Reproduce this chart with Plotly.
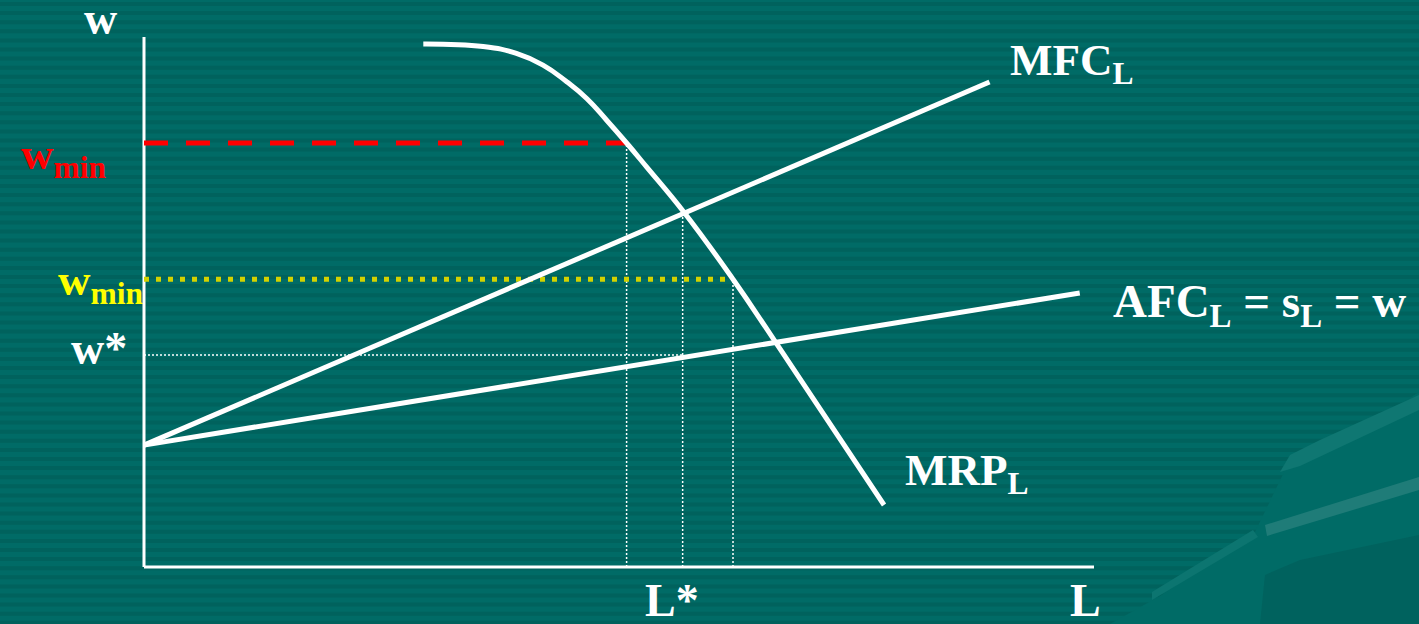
import plotly.graph_objects as go

# ---- data (L = labour, w = wage) ----
intercept_w = 2.30
mfc_L = [0.0, 8.9]
mfc_w = [intercept_w, 9.15]
afc_L = [0.0, 9.85]
afc_w = [intercept_w, 5.17]
mrp_L = [2.94, 3.57, 3.92, 4.20, 4.44, 4.66, 4.87, 5.08, 5.29, 5.69, 6.20, 6.66, 7.79]
mrp_w = [9.87, 9.82, 9.69, 9.47, 9.17, 8.84, 8.43, 8.00, 7.55, 6.68, 5.43, 4.21, 1.17]
w_min_high = 8.00      # red minimum wage
w_min_low = 5.43       # yellow minimum wage
w_star = 4.00
L_high = 5.08          # employment at red w_min
L_star = 5.67          # monopsony employment
L_low = 6.20           # employment at yellow w_min
axis_L_max = 10.0
axis_w_max = 10.0

W, H = 1419, 624
X0, XS = 144, 95.0
Y0, YS = 567, 53.0
xr = [(0 - X0) / XS, (W - X0) / XS]
yr = [(Y0 - H) / YS, (Y0 - 0) / YS]

def px(x):
    return x / W

def py(y):
    return 1 - y / H

fig = go.Figure()

white = "white"
mfc_at_Lstar = mfc_w[0] + (mfc_w[1] - mfc_w[0]) / (mfc_L[1] - mfc_L[0]) * L_star
# axes
fig.add_trace(go.Scatter(x=[0, 0], y=[0, axis_w_max], mode="lines",
                         line=dict(color=white, width=3), hoverinfo="skip"))
fig.add_trace(go.Scatter(x=[0, axis_L_max], y=[0, 0], mode="lines",
                         line=dict(color=white, width=3), hoverinfo="skip"))
# guide lines
guide = dict(color=white, width=1.5, dash="2px,2px")
fig.add_trace(go.Scatter(x=[L_high, L_high], y=[0, w_min_high], mode="lines", line=guide))
fig.add_trace(go.Scatter(x=[L_star, L_star], y=[0, mfc_at_Lstar], mode="lines", line=guide))
fig.add_trace(go.Scatter(x=[L_low, L_low], y=[0, w_min_low], mode="lines", line=guide))
fig.add_trace(go.Scatter(x=[0, L_star], y=[w_star, w_star], mode="lines", line=guide))
fig.add_trace(go.Scatter(x=[0, L_high], y=[w_min_high, w_min_high], mode="lines",
                         line=dict(color="#ff0000", width=5, dash="24px,18px")))
fig.add_trace(go.Scatter(x=[0, L_low], y=[w_min_low, w_min_low], mode="lines",
                         line=dict(color="#d2d200", width=5, dash="5px,7px")))
# curves
fig.add_trace(go.Scatter(x=mfc_L, y=mfc_w, mode="lines", line=dict(color=white, width=5)))
fig.add_trace(go.Scatter(x=afc_L, y=afc_w, mode="lines", line=dict(color=white, width=5)))
fig.add_trace(go.Scatter(x=mrp_L, y=mrp_w, mode="lines",
                         line=dict(color=white, width=5, shape="spline", smoothing=1.3)))

FONT = "Liberation Serif"
def ann(text, x, y, color=white, size=46, xanchor="left", yanchor="middle"):
    fig.add_annotation(x=x, y=y, xref="x", yref="y", text=text, showarrow=False,
                       xanchor=xanchor, yanchor=yanchor,
                       font=dict(family=FONT, size=size, color=color))

def tx(p):
    return (p - X0) / XS

def ty(p):
    return (Y0 - p) / YS

ann("<b>w</b>", tx(100), ty(18), xanchor="center", size=46)
ann("<b>w<sub>min</sub></b>", tx(108), ty(157), color="#ff0000", xanchor="right", size=45)
ann("<b>w<sub>min</sub></b>", tx(145), ty(283), color="#ffff00", xanchor="right", size=45)
ann("<b>w*</b>", tx(129), ty(348), xanchor="right", size=46)
ann("<b>MFC<sub>L</sub></b>", tx(1008), ty(63), size=45)
ann("<b>AFC<sub>L</sub> = s<sub>L</sub> = w</b>", tx(1111), ty(304), size=47)
ann("<b>MRP<sub>L</sub></b>", tx(903), ty(473), size=45)
ann("<b>L*</b>", tx(672), ty(600), xanchor="center", size=46)
ann("<b>L</b>", tx(1085), ty(600), xanchor="center", size=46)

# ---- background decoration ----
shapes = []
base = "#006b66"
stripe = "#00625d"
yy = 2.0
while yy < H:
    shapes.append(dict(type="rect", xref="paper", yref="paper", layer="below",
                       x0=0, x1=1, y0=py(yy + 4), y1=py(yy), fillcolor=stripe,
                       line=dict(width=0)))
    yy += 9.1

def path(pts):
    return "M " + " L ".join(f"{px(a):.5f},{py(b):.5f}" for a, b in pts) + " Z"

# unstriped area below swoosh
shapes.append(dict(type="path", xref="paper", yref="paper", layer="below",
                   path=path([(1110, 624), (1160, 596), (1255, 532), (1285, 470),
                              (1360, 430), (1419, 392), (1419, 624)]),
                   fillcolor=base, line=dict(width=0)))
# light bands
shapes.append(dict(type="path", xref="paper", yref="paper", layer="below",
                   path=path([(1152, 600), (1152, 592), (1253, 530), (1258, 537)]),
                   fillcolor="#0c7570", line=dict(width=0)))
shapes.append(dict(type="path", xref="paper", yref="paper", layer="below",
                   path=path([(1265, 525), (1419, 477), (1419, 490), (1267, 536)]),
                   fillcolor="#1f7c78", line=dict(width=0)))
shapes.append(dict(type="path", xref="paper", yref="paper", layer="below",
                   path=path([(1280, 472), (1290, 455), (1320, 440), (1419, 395),
                              (1419, 410), (1300, 466)]),
                   fillcolor="#0f7772", line=dict(width=0)))
shapes.append(dict(type="path", xref="paper", yref="paper", layer="below",
                   path=path([(1265, 575), (1300, 560), (1419, 535), (1419, 624),
                              (1260, 624)]),
                   fillcolor="#00625e", line=dict(width=0)))

fig.update_layout(
    width=W, height=H,
    margin=dict(l=0, r=0, t=0, b=0),
    paper_bgcolor=base, plot_bgcolor="rgba(0,0,0,0)",
    showlegend=False,
    shapes=shapes,
    xaxis=dict(range=xr, visible=False, fixedrange=True),
    yaxis=dict(range=yr, visible=False, fixedrange=True),
)

fig.write_html("out.html", config={"displayModeBar": False},
               post_script="document.body.style.margin='0';document.body.style.overflow='hidden';")
